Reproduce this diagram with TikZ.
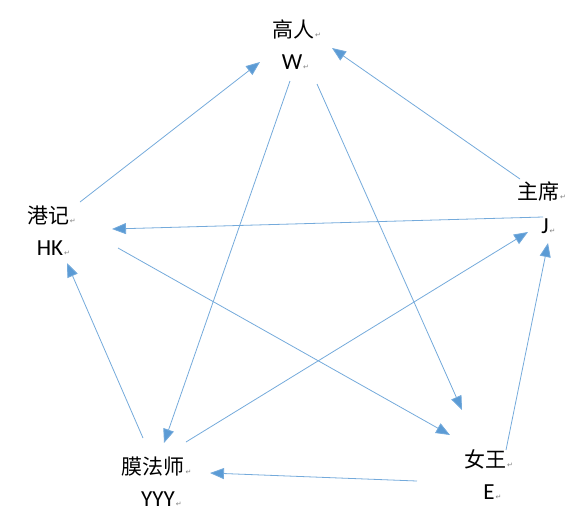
\documentclass[tikz,border=0pt]{standalone}
\usepackage{fontspec}
\setmainfont{Carlito}
\newfontfamily\cjk{Noto Sans CJK SC}
\newfontfamily\symb{DejaVu Sans}
\usepackage{xcolor}
\usepackage{tikz}
\usetikzlibrary{
    calc,
    arrows.meta
}
\definecolor{linkblue}{HTML}{5B9BD5}
\newcommand{\pmark}{\rlap{\kern1pt{\symb\fontsize{7}{7}\selectfont\color{gray}↵}}}
\tikzset{
    cname/.style={font=\cjk\fontsize{21}{25}\selectfont, inner sep=0pt},
    ccode/.style={font=\fontsize{23}{27}\selectfont, inner sep=0pt},
    link/.style={draw=linkblue!85, line width=0.8pt,
        -{Triangle[length=14pt,width=11pt,fill=linkblue]}}
}

\begin{document}
\begin{tikzpicture}[x=1pt,y=-1pt]
    \useasboundingbox (0,0) rectangle (580,515);

    \node[cname] (gr)  at (293,29)  {高人\pmark};
    \node[ccode] (w)   at (292,62)  {W\pmark};
    \node[cname] (gj)  at (48,215)  {港记\pmark};
    \node[ccode] (hk)  at (50,248)  {HK\pmark};
    \node[cname] (zx)  at (538,191) {主席\pmark};
    \node[ccode] (j)   at (545,226) {J\pmark};
    \node[cname] (mfs) at (153,467) {膜法师\pmark};
    \node[ccode] (yyy) at (158,499) {YYY\pmark};
    \node[cname] (nw)  at (485,459) {女王\pmark};
    \node[ccode] (e)   at (489,492) {E\pmark};

    % outer ring
    \draw[link] ($(hk)+(30,-46)$)  -- ($(w)+(-32,0)$);
    \draw[link] ($(zx)+(-18,-12)$) -- ($(w)+(40,-14)$);
    \draw[link] ($(nw)+(21,-9)$)   -- ($(j)+(3,17)$);
    \draw[link] ($(e)+(-72,-11)$)  -- ($(mfs)+(57,6)$);
    \draw[link] ($(mfs)+(-10,-29)$) -- ($(hk)+(17,15)$);

    % inner star
    \draw[link] ($(j)+(-2,-9)$)    -- ($(hk)+(62,-19)$);
    \draw[link] ($(hk)+(68,0)$)    -- ($(nw)+(-35,-24)$);
    \draw[link] ($(w)+(25,22)$)    -- ($(nw)+(-23,-49)$);
    \draw[link] ($(w)+(-2,19)$)    -- ($(mfs)+(11,-24)$);
    \draw[link] ($(mfs)+(33,-25)$) -- ($(j)+(-17,6)$);
\end{tikzpicture}
\end{document}
